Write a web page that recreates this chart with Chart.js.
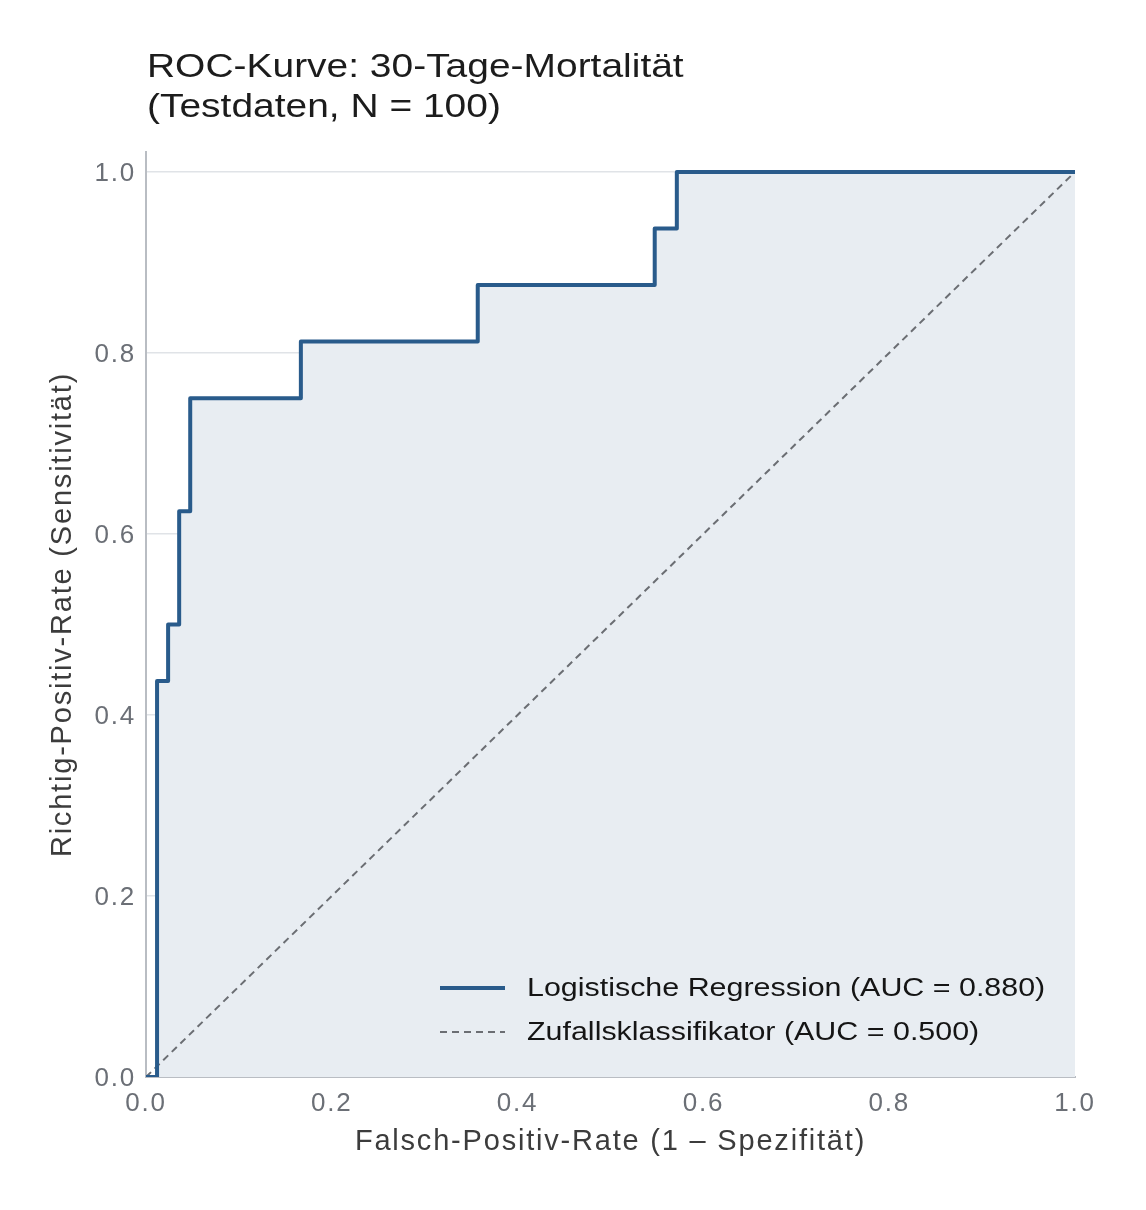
<!DOCTYPE html>
<html lang="de">
<head>
<meta charset="utf-8">
<title>ROC-Kurve</title>
<script src="https://cdn.jsdelivr.net/npm/chart.js@4.4.1/dist/chart.umd.min.js"></script>
<style>
    html, body { margin: 0; padding: 0; background: #fff; }
    #wrap { width: 1146px; height: 1210px; position: relative; }
</style>
</head>
<body>
<div id="wrap"><canvas id="rocChart"></canvas></div>
<script>
// Daten
const fpr = [0, 0.0119, 0.0119, 0.0238, 0.0238, 0.0357, 0.0357, 0.0476, 0.0476, 0.1667, 0.1667, 0.3571, 0.3571, 0.5476, 0.5476, 0.5714, 0.5714, 1.0];
const tpr = [0, 0, 0.4375, 0.4375, 0.5, 0.5, 0.625, 0.625, 0.75, 0.75, 0.8125, 0.8125, 0.875, 0.875, 0.9375, 0.9375, 1.0, 1.0];
const diagX = [0, 1];
const diagY = [0, 1];
const xTicks = [0, 0.2, 0.4, 0.6, 0.8, 1.0];
const yTicks = [0, 0.2, 0.4, 0.6, 0.8, 1.0];
const seriesLabels = ['Logistische Regression (AUC = 0.880)', 'Zufallsklassifikator (AUC = 0.500)'];
const titleLines = ['ROC-Kurve: 30-Tage-Mortalität', '(Testdaten, N = 100)'];
const xTitle = 'Falsch-Positiv-Rate (1 – Spezifität)';
const yTitle = 'Richtig-Positiv-Rate (Sensitivität)';

const FONT = "'Liberation Sans', Arial, sans-serif";

// etwas breitere Schrift wie im Original
const spacingPlugin = {
    id: 'spacing',
    beforeLayout(chart) { chart.ctx.letterSpacing = '1.8px'; },
    beforeDraw(chart) { chart.ctx.letterSpacing = '1.8px'; }
};

// Text horizontal etwas gestreckt zeichnen
function wideText(ctx, text, x, y, sx) {
    ctx.save();
    ctx.translate(x, y);
    ctx.scale(sx, 1);
    ctx.fillText(text, 0, 0);
    ctx.restore();
}

// Titel oben links
const titlePlugin = {
    id: 'leftTitle',
    afterDraw(chart) {
        const ctx = chart.ctx;
        ctx.save();
        ctx.letterSpacing = '0px';
        ctx.fillStyle = '#1c1c1c';
        ctx.font = '33px ' + FONT;
        ctx.textAlign = 'left';
        ctx.textBaseline = 'middle';
        titleLines.forEach((t, i) => wideText(ctx, t, chart.chartArea.left + 1, 68 + i * 40, 1.18));
        ctx.restore();
    }
};

// Legende unten rechts im Diagramm
const legendPlugin = {
    id: 'innerLegend',
    afterDraw(chart) {
        const ctx = chart.ctx;
        const x0 = 440, x1 = 505, tx = 527;
        const rows = [988, 1032];
        ctx.save();
        chart.data.datasets.forEach((ds, i) => {
            const y = rows[i];
            ctx.beginPath();
            ctx.strokeStyle = ds.borderColor;
            ctx.lineWidth = ds.borderWidth;
            ctx.setLineDash(ds.borderDash || []);
            ctx.moveTo(x0, y);
            ctx.lineTo(x1, y);
            ctx.stroke();
            ctx.setLineDash([]);
            ctx.letterSpacing = '0px';
            ctx.fillStyle = '#151515';
            ctx.font = '26px ' + FONT;
            ctx.textAlign = 'left';
            ctx.textBaseline = 'middle';
            wideText(ctx, ds.label, tx, y + 1, 1.17);
        });
        ctx.restore();
    }
};

const ctx = document.getElementById('rocChart').getContext('2d');
const rocChart = new Chart(ctx, {
    type: 'line',
    data: {
        datasets: [
            {
                label: seriesLabels[0],
                data: fpr.map((x, i) => ({ x: x, y: tpr[i] })),
                borderColor: '#295b8b',
                borderWidth: 4,
                backgroundColor: '#e8edf2',
                fill: 'origin',
                pointRadius: 0,
                tension: 0,
                borderJoinStyle: 'round'
            },
            {
                label: seriesLabels[1],
                data: diagX.map((x, i) => ({ x: x, y: diagY[i] })),
                borderColor: '#6b6e73',
                borderWidth: 2,
                borderDash: [7, 5],
                fill: false,
                pointRadius: 0
            }
        ]
    },
    options: {
        responsive: true,
        maintainAspectRatio: false,
        animation: false,
        layout: { padding: { top: 152, right: 71, bottom: 0, left: 0 } },
        scales: {
            x: {
                type: 'linear',
                min: 0,
                max: 1,
                afterFit(scale) { scale.height = 133; },
                afterBuildTicks(scale) { scale.ticks = xTicks.map(v => ({ value: v })); },
                grid: { display: false, drawTicks: false },
                border: { display: true, color: '#b9bdc3', width: 2 },
                ticks: {
                    color: '#6b6f76',
                    font: { size: 26, family: FONT },
                    padding: 11,
                    maxRotation: 0,
                    callback: v => v.toFixed(1)
                },
                title: {
                    display: true,
                    text: xTitle,
                    color: '#3c3c3c',
                    font: { size: 29, family: FONT },
                    padding: { top: 0, bottom: 51 }
                }
            },
            y: {
                type: 'linear',
                min: 0,
                max: 1.022,
                afterFit(scale) { scale.width = 146; },
                afterBuildTicks(scale) { scale.ticks = yTicks.map(v => ({ value: v })); },
                grid: { color: '#e0e3e7', lineWidth: 1.5, drawTicks: false },
                border: { display: true, color: '#b9bdc3', width: 2 },
                ticks: {
                    color: '#6b6f76',
                    font: { size: 26, family: FONT },
                    padding: 10,
                    labelOffset: 2,
                    callback: v => v.toFixed(1)
                },
                title: {
                    display: true,
                    text: yTitle,
                    color: '#3c3c3c',
                    font: { size: 29, family: FONT },
                    padding: { top: 46, bottom: 0 }
                }
            }
        },
        plugins: {
            legend: { display: false },
            title: { display: false },
            tooltip: { enabled: false },
            filler: { drawTime: 'beforeDatasetsDraw' }
        }
    },
    plugins: [spacingPlugin, titlePlugin, legendPlugin]
});
</script>
</body>
</html>
